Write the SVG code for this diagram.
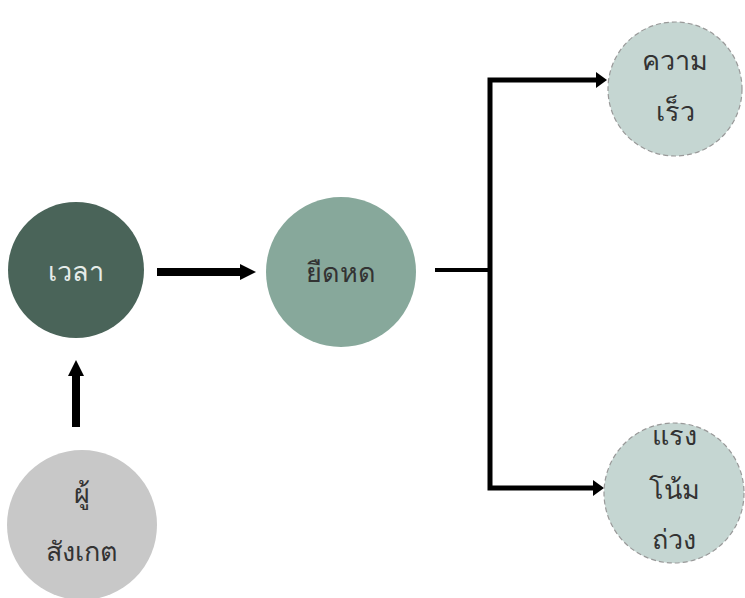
<svg xmlns="http://www.w3.org/2000/svg" width="745" height="598" viewBox="0 0 745 598">
<style>
text{font-family:"Noto Sans","DejaVu Sans",sans-serif;font-size:27px;font-weight:300;text-anchor:middle;dominant-baseline:central;fill:#333}
.light{fill:#e6ece9}
.conn{stroke:#000;fill:none}
.dash{fill:#c5d6d2;stroke:#999;stroke-width:1.2;stroke-dasharray:5 3}
</style>
<defs>
<marker id="ah" markerWidth="2" markerHeight="2" refX="0.5" refY="1" orient="auto" markerUnits="strokeWidth"><path d="M0,0 L2,1 L0,2 Z" fill="#000"/></marker>
</defs>
<g id="connectors">
<line class="conn" x1="157" y1="272" x2="244" y2="272" stroke-width="8" marker-end="url(#ah)"/>
<line class="conn" x1="76" y1="427" x2="76" y2="372" stroke-width="8" marker-end="url(#ah)"/>
<line class="conn" x1="435" y1="270" x2="490" y2="270" stroke-width="4"/>
<path class="conn" d="M598,80 L490,80 L490,488 L596,488" stroke-width="5" stroke-linejoin="miter"/>
<path d="M596,72 L607,80 L596,88 Z" fill="#000"/>
<path d="M593,480 L604,488 L593,496 Z" fill="#000"/>
</g>
<g id="time">
<circle cx="76" cy="270" r="68" fill="#4a6459"/>
<text class="light" x="76" y="270">เวลา</text>
</g>
<g id="stretch">
<circle cx="341" cy="272" r="75" fill="#87a89b"/>
<text x="341" y="271">ยืดหด</text>
</g>
<g id="speed">
<circle class="dash" cx="675" cy="89" r="67"/>
<text x="675" y="59">ความ</text>
<text x="675" y="110">เร็ว</text>
</g>
<g id="gravity">
<circle class="dash" cx="674" cy="493" r="70"/>
<text x="674" y="434">แรง</text>
<text x="674" y="488">โน้ม</text>
<text x="674" y="538">ถ่วง</text>
</g>
<g id="observer">
<circle cx="82" cy="525" r="75" fill="#c8c8c8"/>
<text x="82" y="492">ผู้</text>
<text x="82" y="550">สังเกต</text>
</g>
</svg>
